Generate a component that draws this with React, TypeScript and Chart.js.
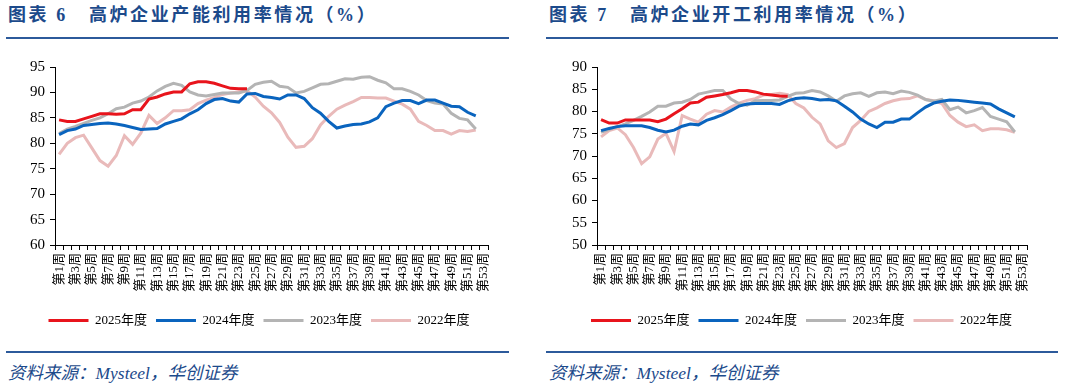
import React, { useEffect, useRef } from "react";
import { Chart, registerables } from "chart.js";

Chart.register(...registerables);

const weeks = [
  "第1周", "第2周", "第3周", "第4周", "第5周", "第6周", "第7周", "第8周", "第9周", "第10周",
  "第11周", "第12周", "第13周", "第14周", "第15周", "第16周", "第17周", "第18周", "第19周", "第20周",
  "第21周", "第22周", "第23周", "第24周", "第25周", "第26周", "第27周", "第28周", "第29周", "第30周",
  "第31周", "第32周", "第33周", "第34周", "第35周", "第36周", "第37周", "第38周", "第39周", "第40周",
  "第41周", "第42周", "第43周", "第44周", "第45周", "第46周", "第47周", "第48周", "第49周", "第50周",
  "第51周", "第52周", "第53周",
];

const seriesNames = ["2025年度", "2024年度", "2023年度", "2022年度"];
const seriesColors = ["#e8141c", "#0a64be", "#b4b4b4", "#e9baba"];

// 图表 6：高炉企业产能利用率
const cap2025 = [84.6, 84.3, 84.3, 84.8, 85.3, 85.8, 85.8, 85.7, 85.8, 86.6, 86.6, 88.7, 89.1, 89.7, 90.1, 90.1, 91.7, 92.1, 92.1, 91.8, 91.3, 90.8, 90.7, 90.7];
const cap2024 = [81.7, 82.5, 82.8, 83.5, 83.7, 83.9, 84.0, 83.8, 83.5, 83.1, 82.7, 82.8, 82.9, 83.8, 84.3, 84.8, 85.8, 86.6, 87.8, 88.6, 88.8, 88.3, 88.1, 89.7, 89.8, 89.2, 89.0, 88.7, 89.5, 89.5, 88.8, 87.0, 85.9, 84.3, 83.0, 83.4, 83.7, 83.8, 84.2, 85.0, 87.2, 87.9, 88.4, 88.4, 87.8, 88.5, 88.5, 87.9, 87.3, 87.2, 86.1, 85.4];
const cap2023 = [81.9, 82.8, 83.3, 83.9, 84.5, 85.0, 85.8, 86.8, 87.1, 87.9, 88.3, 89.1, 90.3, 91.2, 91.8, 91.4, 90.1, 89.5, 89.3, 89.6, 89.9, 89.9, 89.9, 90.4, 91.6, 92.0, 92.2, 91.2, 91.0, 89.9, 90.2, 90.9, 91.6, 91.7, 92.2, 92.7, 92.6, 93.0, 93.1, 92.4, 91.9, 90.7, 90.7, 90.2, 89.5, 88.4, 87.9, 87.7, 85.9, 84.9, 84.6, 82.8];
const cap2022 = [77.8, 80.0, 81.1, 81.6, 79.1, 76.6, 75.5, 77.6, 81.5, 79.8, 82.0, 85.5, 83.9, 85.0, 86.4, 86.4, 86.6, 87.8, 88.5, 89.0, 89.6, 89.9, 90.1, 90.3, 89.1, 87.3, 86.0, 84.1, 81.2, 79.2, 79.4, 80.9, 83.6, 85.3, 86.7, 87.5, 88.2, 89.0, 89.0, 88.9, 88.9, 88.3, 87.7, 86.7, 84.3, 83.5, 82.5, 82.5, 81.8, 82.5, 82.3, 82.6];

// 图表 7：高炉企业开工利用率
const op2025 = [78.2, 77.4, 77.4, 78.1, 78.1, 78.1, 78.1, 77.7, 78.3, 79.5, 80.6, 81.9, 82.1, 83.2, 83.5, 83.8, 84.2, 84.7, 84.7, 84.4, 83.9, 83.7, 83.5, 83.4];
const op2024 = [75.7, 76.2, 76.6, 76.8, 76.8, 76.8, 76.4, 75.8, 75.4, 75.8, 76.7, 77.2, 77.0, 78.0, 78.6, 79.3, 80.2, 81.2, 81.7, 81.8, 81.8, 81.8, 81.6, 82.4, 82.9, 83.1, 82.9, 82.6, 82.7, 82.4, 81.2, 79.9, 78.3, 77.2, 76.4, 77.6, 77.6, 78.3, 78.3, 79.7, 81.0, 81.9, 82.3, 82.6, 82.5, 82.3, 82.1, 81.9, 81.7, 80.6, 79.7, 78.8];
const op2023 = [75.3, 76.0, 76.6, 77.2, 78.0, 78.9, 79.9, 81.2, 81.2, 81.9, 82.1, 82.7, 83.9, 84.3, 84.7, 84.7, 82.8, 81.8, 81.4, 82.4, 82.5, 82.5, 82.6, 83.4, 84.1, 84.2, 84.7, 84.4, 83.5, 82.3, 83.5, 84.0, 84.2, 83.4, 84.2, 84.4, 84.0, 84.6, 84.3, 83.7, 82.7, 82.3, 82.7, 80.4, 81.0, 79.7, 80.2, 80.9, 78.9, 78.3, 77.7, 75.4];
const op2022 = [74.3, 75.7, 76.3, 74.8, 71.9, 68.3, 69.8, 73.8, 75.1, 71.0, 79.1, 78.3, 77.6, 79.4, 80.2, 79.9, 81.0, 81.9, 82.5, 82.9, 83.7, 83.8, 84.1, 83.8, 81.8, 80.8, 78.7, 77.2, 73.4, 71.9, 72.8, 76.4, 78.0, 80.0, 80.8, 81.8, 82.4, 82.8, 82.9, 83.5, 82.7, 82.4, 81.8, 79.1, 77.6, 76.6, 77.0, 75.7, 76.1, 76.1, 75.9, 75.3];

const capTicks = [60, 65, 70, 75, 80, 85, 90, 95];
const opTicks = [50, 55, 60, 65, 70, 75, 80, 85, 90];

const SERIF = "'Liberation Serif', 'Noto Sans CJK SC', serif";
const BLUE_TEXT = "#1c4a8b";
const RULE = "#2c5a9b";

type PanelChartProps = {
  series: number[][];
  yTicks: number[];
  axisW: number;
  padRight: number;
  legendShift: number;
};

function PanelChart({ series, yTicks, axisW, padRight, legendShift }: PanelChartProps) {
  const ref = useRef<HTMLCanvasElement | null>(null);
  useEffect(() => {
    if (!ref.current) return;
    const shiftLegend = {
      id: "shiftLegend",
      afterLayout(chart: any) {
        const lg = chart.legend;
        if (lg) {
          lg.left += legendShift;
          lg.right += legendShift;
        }
      },
    };
    const chart = new Chart(ref.current, {
      type: "line",
      data: {
        labels: weeks,
        datasets: series.map((d, i) => ({
          label: seriesNames[i],
          data: d,
          borderColor: seriesColors[i],
          backgroundColor: seriesColors[i],
          borderWidth: 3,
          pointRadius: 0,
          tension: 0,
          fill: false,
        })),
      },
      plugins: [shiftLegend],
      options: {
        animation: false,
        responsive: false,
        devicePixelRatio: 1,
        layout: { padding: { left: 0, right: padRight, top: 22, bottom: 0 } },
        plugins: {
          tooltip: { enabled: false },
          legend: {
            position: "bottom",
            labels: {
              boxWidth: 40,
              boxHeight: 3,
              padding: 9,
              color: "#000",
              font: { family: SERIF, size: 13 },
              generateLabels: (c: any) =>
                c.data.datasets.map((ds: any, i: number) => ({
                  text: ds.label,
                  fillStyle: ds.borderColor,
                  strokeStyle: ds.borderColor,
                  lineWidth: 0,
                  hidden: false,
                  datasetIndex: i,
                  fontColor: "#000",
                })),
            },
          },
        },
        scales: {
          x: {
            type: "category",
            offset: true,
            afterFit: (scale: any) => {
              scale.height = 60;
            },
            grid: {
              offset: true,
              drawOnChartArea: false,
              drawTicks: true,
              tickLength: 5,
              color: "#000",
            },
            border: { color: "#000", width: 1 },
            ticks: {
              autoSkip: false,
              minRotation: 90,
              maxRotation: 90,
              padding: 3,
              color: "#000",
              font: { family: SERIF, size: 13 },
              callback: (_v: any, i: number) => (i % 2 === 0 ? weeks[i] : ""),
            },
          },
          y: {
            min: yTicks[0],
            max: yTicks[yTicks.length - 1],
            afterFit: (scale: any) => {
              scale.width = axisW;
            },
            afterBuildTicks: (scale: any) => {
              scale.ticks = yTicks.map((v) => ({ value: v }));
            },
            grid: {
              drawOnChartArea: false,
              drawTicks: true,
              tickLength: 5,
              color: "#000",
            },
            border: { color: "#000", width: 1 },
            ticks: {
              padding: 5,
              color: "#000",
              font: { family: SERIF, size: 15 },
            },
          },
        },
      },
    } as any);
    return () => chart.destroy();
  }, []);
  return <canvas ref={ref} width={533} height={292} style={{ display: "block", width: 533, height: 292 }} />;
}

type PanelProps = {
  num: string;
  title: string;
  left: number;
  ruleLeft: number;
  ruleWidth: number;
  textLeft: number;
  children: React.ReactNode;
};

function Panel({ num, title, left, ruleLeft, ruleWidth, textLeft, children }: PanelProps) {
  return (
    <div style={{ position: "absolute", left, top: 0, width: 533, height: 389 }}>
      <div
        style={{
          position: "absolute",
          left: textLeft,
          top: 3,
          fontFamily: SERIF,
          fontWeight: "bold",
          fontSize: 18,
          letterSpacing: 2.6,
          color: BLUE_TEXT,
          whiteSpace: "nowrap",
          lineHeight: "24px",
        }}
      >
        <span>图表 {num}</span>
        <span style={{ marginLeft: 21 }}>{title}</span>
      </div>
      <div style={{ position: "absolute", left: ruleLeft, top: 37, width: ruleWidth, height: 2, background: RULE }} />
      <div style={{ position: "absolute", left: 0, top: 45 }}>{children}</div>
      <div style={{ position: "absolute", left: ruleLeft, top: 351, width: ruleWidth, height: 2, background: RULE }} />
      <div
        style={{
          position: "absolute",
          left: textLeft,
          top: 362,
          fontFamily: SERIF,
          fontStyle: "italic",
          fontSize: 17.5,
          color: BLUE_TEXT,
          whiteSpace: "nowrap",
          lineHeight: "22px",
        }}
      >
        资料来源：Mysteel，华创证券
      </div>
    </div>
  );
}

export default function App() {
  return (
    <div style={{ position: "fixed", left: 0, top: 0, width: 1066, height: 389, background: "#fff", overflow: "hidden" }}>
      <Panel num="6" title="高炉企业产能利用率情况（%）" left={0} ruleLeft={6} ruleWidth={503} textLeft={8}>
        <PanelChart series={[cap2025, cap2024, cap2023, cap2022]} yTicks={capTicks} axisW={55} padRight={45} legendShift={15} />
      </Panel>
      <Panel num="7" title="高炉企业开工利用率情况（%）" left={533} ruleLeft={13} ruleWidth={512} textLeft={16}>
        <PanelChart series={[op2025, op2024, op2023, op2022]} yTicks={opTicks} axisW={64} padRight={39} legendShift={21.5} />
      </Panel>
    </div>
  );
}
